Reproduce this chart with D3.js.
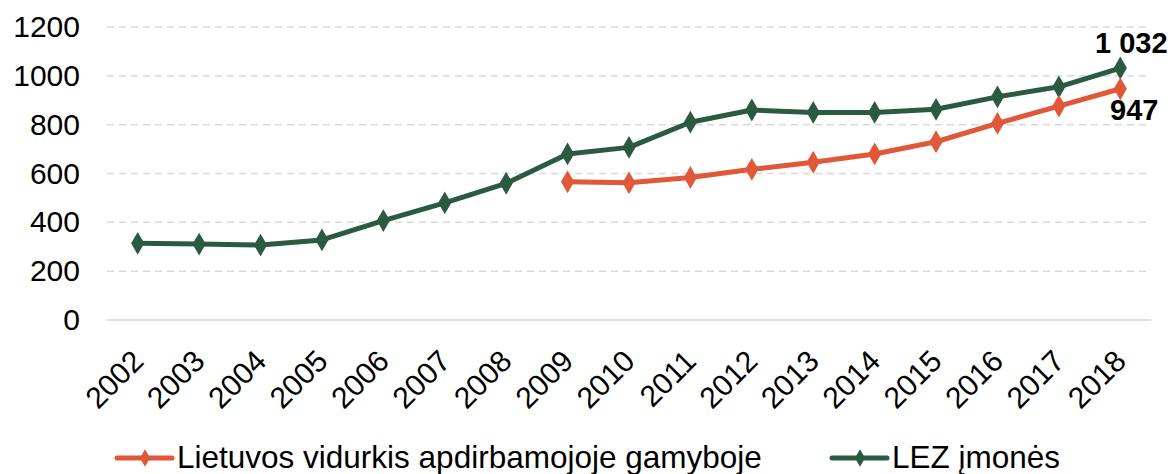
<!DOCTYPE html>
<html>
<head>
<meta charset="utf-8">
<script src="https://d3js.org/d3.v7.min.js"></script>
<style>
body { margin: 0; background: white; }
text { font-family: "Liberation Sans", Arial, sans-serif; }
</style>
</head>
<body>
<div id="chart"></div>
<script>

// data
var years = ["2002","2003","2004","2005","2006","2007","2008","2009","2010",
             "2011","2012","2013","2014","2015","2016","2017","2018"];
var lezValues = [314, 311, 307, 328, 407, 480, 560, 680, 707, 810, 860, 850, 850, 863, 914, 955, 1032];
var ltYears = ["2009","2010","2011","2012","2013","2014","2015","2016","2017","2018"];
var ltValues = [566, 562, 584, 617, 646, 680, 730, 805, 876, 947];
var yTicks = [0, 200, 400, 600, 800, 1000, 1200];
var seriesNames = ["Lietuvos vidurkis apdirbamojoje gamyboje", "LEZ įmonės"];

var W = 1174, H = 474;
var orange = "#e15839", green = "#2b5a43";

var svg = d3.select("#chart").append("svg")
  .attr("width", W)
  .attr("height", H);

// scales
var x = d3.scalePoint()
  .domain(years)
  .range([107, 1151])
  .padding(0.5);

var y = d3.scaleLinear()
  .domain([0, 1200])
  .range([320, 27]);

// gridlines
svg.append("g")
  .selectAll("line")
  .data(yTicks.filter(function(d) { return d > 0; }))
  .enter().append("line")
    .attr("x1", 107).attr("x2", 1151)
    .attr("y1", function(d) { return y(d); })
    .attr("y2", function(d) { return y(d); })
    .attr("stroke", "#d9d9d9")
    .attr("stroke-width", 1.5)
    .attr("stroke-dasharray", "7,5");

// base line
svg.append("line")
  .attr("x1", 107).attr("x2", 1151)
  .attr("y1", y(0)).attr("y2", y(0))
  .attr("stroke", "#d9d9d9")
  .attr("stroke-width", 1.5);

// y axis labels
var yAxis = svg.append("g")
  .attr("transform", "translate(107,0)")
  .call(d3.axisLeft(y).tickValues(yTicks).tickFormat(d3.format("d")).tickSize(0).tickPadding(27));
yAxis.select(".domain").remove();
yAxis.selectAll("text")
  .attr("font-size", 30)
  .attr("font-family", "Liberation Sans, Arial, sans-serif")
  .attr("fill", "#000");

// x axis labels, rotated
var xAxis = svg.append("g")
  .attr("transform", "translate(0," + y(0) + ")")
  .call(d3.axisBottom(x).tickSize(0).tickPadding(0));
xAxis.select(".domain").remove();
xAxis.selectAll("text")
  .attr("font-size", 30)
  .attr("font-family", "Liberation Sans, Arial, sans-serif")
  .attr("fill", "#000")
  .attr("text-anchor", "end")
  .attr("dy", null)
  .attr("y", 0)
  .attr("transform", "translate(7,43) rotate(-45)");

// lines
var lezData = years.map(function(d, i) { return {year: d, value: lezValues[i]}; });
var ltData = ltYears.map(function(d, i) { return {year: d, value: ltValues[i]}; });

var line = d3.line()
  .x(function(d) { return x(d.year); })
  .y(function(d) { return y(d.value); });

var diamond = d3.symbol().type(d3.symbolDiamond).size(150);

function drawSeries(data, color) {
  svg.append("path")
    .datum(data)
    .attr("fill", "none")
    .attr("stroke", color)
    .attr("stroke-width", 5)
    .attr("stroke-linejoin", "round")
    .attr("d", line);
  svg.append("g")
    .selectAll("path")
    .data(data)
    .enter().append("path")
      .attr("d", diamond)
      .attr("transform", function(d) { return "translate(" + x(d.year) + "," + y(d.value) + ")"; })
      .attr("fill", color);
}

drawSeries(lezData, green);
drawSeries(ltData, orange);

// end labels
var last = years.length - 1;
svg.append("text")
  .attr("x", x(years[last]) + 11)
  .attr("y", y(lezValues[last]) - 15)
  .attr("text-anchor", "middle")
  .attr("font-size", 29)
  .attr("font-weight", "bold")
  .text("1 032");
svg.append("text")
  .attr("x", x(ltYears[ltYears.length - 1]) + 14)
  .attr("y", y(ltValues[ltValues.length - 1]) + 31)
  .attr("text-anchor", "middle")
  .attr("font-size", 29)
  .attr("font-weight", "bold")
  .text("947");

// legend
var legend = [
  {name: seriesNames[0], color: orange, x: 117},
  {name: seriesNames[1], color: green, x: 832}
];
var lg = svg.append("g")
  .selectAll("g")
  .data(legend)
  .enter().append("g")
    .attr("transform", function(d) { return "translate(" + d.x + ",458)"; });
lg.append("line")
  .attr("x1", 0).attr("x2", 55)
  .attr("stroke", function(d) { return d.color; })
  .attr("stroke-width", 5)
  .attr("stroke-linecap", "round");
lg.append("path")
  .attr("d", d3.symbol().type(d3.symbolDiamond).size(90))
  .attr("transform", "translate(28,0)")
  .attr("fill", function(d) { return d.color; });
lg.append("text")
  .attr("x", 60)
  .attr("y", 10)
  .attr("font-size", 31.5)
  .text(function(d) { return d.name; });

</script>
</body>
</html>
